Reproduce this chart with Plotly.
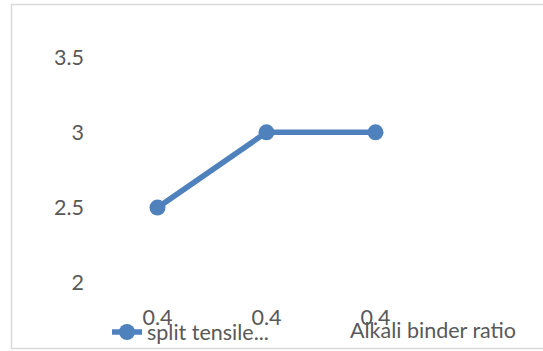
import plotly.graph_objects as go

# Chart data
categories = ["0.4", "0.4", "0.4"]
split_tensile = [2.5, 3.0, 3.0]
series_name = "split tensile..."
x_title = "Alkali binder ratio"
y_ticks = [2, 2.5, 3, 3.5]

W, H = 543, 351
L, R, T, B = 103, 113, 57, 50
plot_w = W - L - R
plot_h = H - T - B


def px_x(p):
    return (p - L) / plot_w


def px_y(p):
    return (H - B - p) / plot_h


blue = "#4F81BD"
grey_text = "#595959"
font_family = "Lato, 'Open Sans', sans-serif"
fs = 21.5

x_idx = list(range(len(categories)))

fig = go.Figure()
fig.add_trace(go.Scatter(
    x=x_idx,
    y=split_tensile,
    mode="lines+markers",
    name=series_name,
    line=dict(color=blue, width=5.5),
    marker=dict(color=blue, size=16),
    showlegend=True,
))

fig.update_layout(
    width=W,
    height=H,
    margin=dict(l=L, r=R, t=T, b=B, pad=0, autoexpand=False),
    paper_bgcolor="white",
    plot_bgcolor="white",
    font=dict(family=font_family, size=fs, color=grey_text),
    xaxis=dict(
        range=[-0.5, len(categories) - 0.5],
        tickmode="array",
        tickvals=x_idx,
        ticktext=categories,
        showgrid=False,
        zeroline=False,
        showline=False,
        ticks="",
        ticklabelstandoff=1,
        fixedrange=True,
    ),
    yaxis=dict(
        range=[1.88, 3.5],
        tickmode="array",
        tickvals=y_ticks,
        ticktext=[f"{v:g}" for v in y_ticks],
        showgrid=False,
        zeroline=False,
        showline=False,
        ticks="",
        ticklabelstandoff=18,
        fixedrange=True,
    ),
    legend=dict(
        orientation="h",
        x=px_x(107),
        y=px_y(332),
        xanchor="left",
        yanchor="middle",
        bgcolor="rgba(0,0,0,0)",
        font=dict(size=fs, color=grey_text),
        itemwidth=30,
    ),
    annotations=[dict(
        text=x_title,
        xref="paper", yref="paper",
        x=px_x(348), y=px_y(330),
        xanchor="left", yanchor="middle",
        showarrow=False,
        font=dict(size=fs, color=grey_text),
    )],
    shapes=[dict(
        type="rect",
        xref="paper", yref="paper",
        x0=px_x(11.5), x1=px_x(546),
        y0=px_y(348.5), y1=px_y(4.5),
        line=dict(color="#D9D9D9", width=1.5),
        fillcolor="rgba(0,0,0,0)",
        layer="below",
    )],
)

fig.write_html("out.html")
